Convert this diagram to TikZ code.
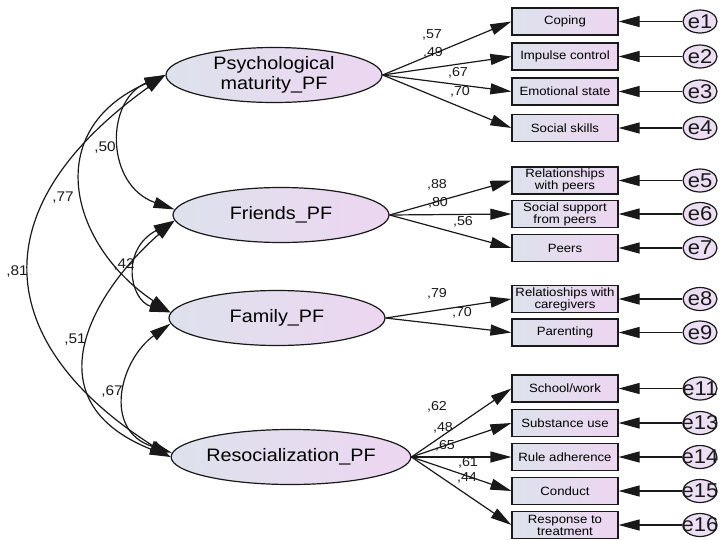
\documentclass[tikz,border=0pt]{standalone}
\usepackage{fontspec}
\setmainfont[FakeStretch=1.1]{Liberation Sans}
\usetikzlibrary{
  arrows.meta,
  shapes.geometric
}
\definecolor{ink}{RGB}{25,25,25}
\definecolor{shadeleft}{RGB}{221,226,236}
\definecolor{shaderight}{RGB}{237,214,241}
\definecolor{errfill}{RGB}{236,222,243}

\begin{document}
\begin{tikzpicture}[
  x=1pt, y=-1pt,
  latent/.style={
    ellipse,
    draw=ink,
    line width=1.2pt,
    left color=shadeleft,
    right color=shaderight,
    align=center,
    inner sep=0pt,
    font=\fontsize{18}{20}\selectfont,
    minimum width=216pt,
    minimum height=55pt
  },
  item/.style={
    draw=ink,
    line width=1.2pt,
    left color=shadeleft,
    right color=shaderight,
    align=center,
    inner sep=1pt,
    font=\fontsize{12}{12}\selectfont,
    minimum width=106pt,
    minimum height=27pt
  },
  err/.style={
    ellipse,
    draw=ink,
    line width=1.2pt,
    fill=errfill,
    inner sep=0pt,
    minimum width=34pt,
    minimum height=23pt,
    label={[font=\fontsize{20}{20}\selectfont, text=ink]center:#1}
  },
  path/.style={-{Triangle[length=21pt, width=11pt]}, line width=1.2pt, ink},
  cov/.style={{Triangle[length=21pt, width=11pt]}-{Triangle[length=21pt, width=11pt]}, line width=1.2pt, ink},
  load/.style={font=\fontsize{13}{13}\selectfont, text=ink, inner sep=0pt},
  corr/.style={font=\fontsize{14}{14}\selectfont, text=ink, inner sep=0pt}
]
\useasboundingbox (0,0) rectangle (721,539);

% latent factors
\node[latent] (psy) at (274,75) {Psychological\\maturity\_PF};
\node[latent] (fri) at (281,215) {Friends\_PF};
\node[latent] (fam) at (277,318) {Family\_PF};
\node[latent] (res) at (291,457) {Resocialization\_PF};

% observed indicators
\node[item] (coping) at (565,21.5) {Coping};
\node[item] (impulse) at (565,56.5) {Impulse control};
\node[item] (emotion) at (565,91.5) {Emotional state};
\node[item] (social) at (565,128) {Social skills};
\node[item] (relpeers) at (565,180.5) {Relationships\\with peers};
\node[item] (support) at (565,214) {Social support\\from peers};
\node[item] (peers) at (565,248) {Peers};
\node[item] (relcare) at (565,299) {Relatioships with\\caregivers};
\node[item] (parent) at (565,332.5) {Parenting};
\node[item] (school) at (565,388.5) {School/work};
\node[item] (subst) at (565,423) {Substance use};
\node[item] (rules) at (565,457) {Rule adherence};
\node[item] (conduct) at (565,491) {Conduct};
\node[item] (response) at (565,525) {Response to\\treatment};

% error terms
\node[err=e1] (e1) at (700,21.5) {};
\node[err=e2] (e2) at (700,56.5) {};
\node[err=e3] (e3) at (700,91.5) {};
\node[err=e4] (e4) at (700,128) {};
\node[err=e5] (e5) at (700,180.5) {};
\node[err=e6] (e6) at (700,214) {};
\node[err=e7] (e7) at (700,248) {};
\node[err=e8] (e8) at (700,299) {};
\node[err=e9] (e9) at (700,332.5) {};
\node[err=e11] (e11) at (700,388.5) {};
\node[err=e13] (e13) at (700,423) {};
\node[err=e14] (e14) at (700,457) {};
\node[err=e15] (e15) at (700,491) {};
\node[err=e16] (e16) at (700,525) {};

% loadings
\draw[path] (psy.east) -- (coping.west);
\draw[path] (psy.east) -- (impulse.west);
\draw[path] (psy.east) -- (emotion.west);
\draw[path] (psy.east) -- (social.west);
\draw[path] (fri.east) -- (relpeers.west);
\draw[path] (fri.east) -- (support.west);
\draw[path] (fri.east) -- (peers.west);
\draw[path] (fam.east) -- (relcare.west);
\draw[path] (fam.east) -- (parent.west);
\draw[path] (res.east) -- (school.west);
\draw[path] (res.east) -- (subst.west);
\draw[path] (res.east) -- (rules.west);
\draw[path] (res.east) -- (conduct.west);
\draw[path] (res.east) -- (response.west);

\node[load] (l1) at (432,35) {,57};
\node[load] (l2) at (433,53) {,49};
\node[load] (l3) at (458,73) {,67};
\node[load] (l4) at (460,92) {,70};
\node[load] (l5) at (437,185) {,88};
\node[load] (l6) at (438,203) {,80};
\node[load] (l7) at (463,222) {,56};
\node[load] (l8) at (437,294) {,79};
\node[load] (l9) at (462,313) {,70};
\node[load] (l10) at (437,407) {,62};
\node[load] (l11) at (443,428) {,48};
\node[load] (l12) at (445,446) {,65};
\node[load] (l13) at (468,463) {,61};
\node[load] (l14) at (467,478) {,44};

% residuals
\draw[path] (e1) -- (coping);
\draw[path] (e2) -- (impulse);
\draw[path] (e3) -- (emotion);
\draw[path] (e4) -- (social);
\draw[path] (e5) -- (relpeers);
\draw[path] (e6) -- (support);
\draw[path] (e7) -- (peers);
\draw[path] (e8) -- (relcare);
\draw[path] (e9) -- (parent);
\draw[path] (e11) -- (school);
\draw[path] (e13) -- (subst);
\draw[path] (e14) -- (rules);
\draw[path] (e15) -- (conduct);
\draw[path] (e16) -- (response);

% correlations between factors
\draw[cov] (psy.west) .. controls (105,100) and (105,185) .. (fri.177);
\draw[cov] (psy.west) .. controls (40,130) and (70,245) .. (fam.177);
\draw[cov] (psy.west) .. controls (-30,215) and (2,350) .. (res.west);
\draw[cov] (fri.183) .. controls (120,250) and (130,300) .. (fam.177);
\draw[cov] (fri.183) .. controls (95,290) and (27,400) .. (res.west);
\draw[cov] (fam.183) .. controls (120,360) and (102,430) .. (res.178);

\node[corr] (c1) at (105,148) {,50};
\node[corr] (c2) at (63,198) {,77};
\node[corr] (c3) at (17,272) {,81};
\node[corr] (c4) at (124,265) {,42};
\node[corr] (c5) at (75,340) {,51};
\node[corr] (c6) at (112,392) {,67};

\end{tikzpicture}
\end{document}
